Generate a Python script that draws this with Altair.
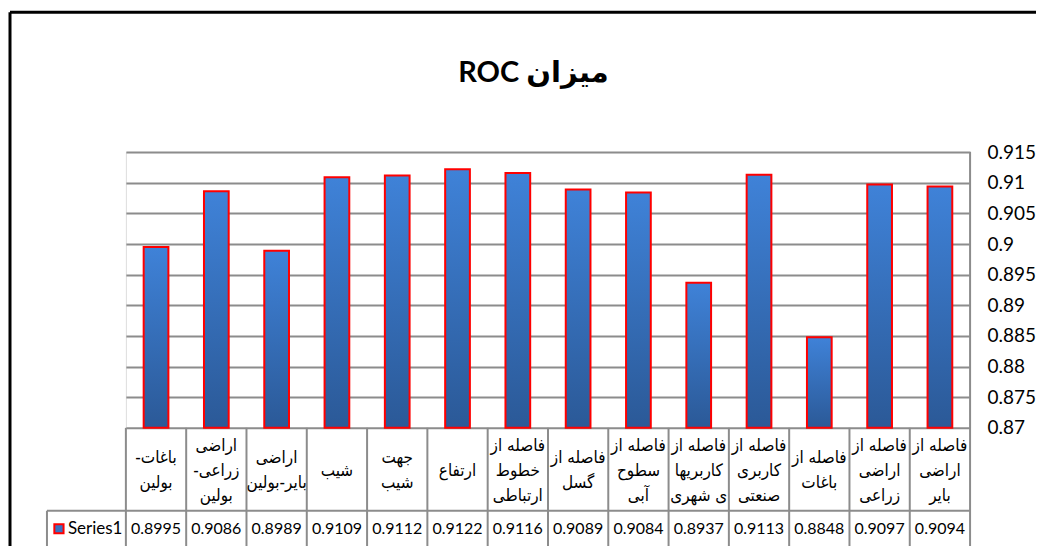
import altair as alt
import pandas as pd

labels = [
    "باغات-\u200f\nبولین",
    "اراضی\nزراعی-\u200f\nبولین",
    "اراضی\nبایر-بولین",
    "شیب",
    "جهت\nشیب",
    "ارتفاع",
    "فاصله از\nخطوط\nارتباطی",
    "فاصله از\nگسل",
    "فاصله از\nسطوح\nآبی",
    "فاصله از\nکاربریها\nی شهری",
    "فاصله از\nکاربری\nصنعتی",
    "فاصله از\nباغات",
    "فاصله از\nاراضی\nزراعی",
    "فاصله از\nاراضی\nبایر",
]
values = [0.8995, 0.9086, 0.8989, 0.9109, 0.9112, 0.9122, 0.9116,
          0.9089, 0.9084, 0.8937, 0.9113, 0.8848, 0.9097, 0.9094]
y_ticks = [0.87, 0.875, 0.88, 0.885, 0.89, 0.895, 0.9, 0.905, 0.91, 0.915]
series_name = "Series1"
title_text = "\u202bمیزان ROC\u202c"

W, H = 845, 276
LH = 25
cats = [f"c{i}" for i in range(len(labels))]
df = pd.DataFrame({"cat": cats, "label": labels, "value": values})
one = pd.DataFrame({"k": [0]})

GRID = "#8c8c8c"
LAT = "Lato, DejaVu Sans Condensed"
PER = "DejaVu Sans Condensed, DejaVu Sans"

xs = alt.X("cat:N", sort=cats, axis=None,
           scale=alt.Scale(paddingInner=0, paddingOuter=0))

grad = alt.Gradient(
    gradient="linear", x1=0, x2=0, y1=0, y2=1,
    stops=[alt.GradientStop(color="#3f82d8", offset=0),
           alt.GradientStop(color="#2b5997", offset=1)],
)

base = alt.Chart(df)

bars = base.mark_bar(width={"band": 0.41}, color=grad, stroke="#ff0000",
                     strokeWidth=2).encode(
    x=xs,
    y=alt.Y("value:Q",
            scale=alt.Scale(domain=[0.87, 0.915], zero=False, nice=False),
            axis=alt.Axis(orient="right", values=y_ticks, format="~f",
                          title=None, grid=True, gridColor=GRID, gridWidth=2,
                          domain=False, ticks=False, labelPadding=17,
                          labelFont=LAT, labelFontSize=19, labelColor="#000",
                          labelAlign="left")),
    y2=alt.datum(0.87),
)

label_text = base.transform_calculate(
    dy=f"-(length(split(datum.label, '\\n')) - 1) * {LH / 2}"
).mark_text(lineBreak="\n", font=PER, fontSize=17, lineHeight=LH,
            baseline="middle", color="#000").encode(
    x=alt.X("cat:N", sort=cats, bandPosition=0.5, axis=None),
    y=alt.value(319),
    yOffset=alt.YOffset("dy:Q", scale=None),
    text="label:N")

value_text = base.mark_text(font=LAT, fontSize=16, baseline="middle",
                            color="#000").encode(
    x=alt.X("cat:N", sort=cats, bandPosition=0.5, axis=None),
    y=alt.value(377), text=alt.Text("value:Q", format=".4f"))

vlines = base.mark_rule(color=GRID, strokeWidth=2).encode(
    x=alt.X("cat:N", sort=cats, bandPosition=0, axis=None),
    y=alt.value(H), y2=alt.value(396))

right_line = alt.Chart(one).mark_rule(color=GRID, strokeWidth=2).encode(
    x=alt.value(W), y=alt.value(0), y2=alt.value(396))
h1 = alt.Chart(one).mark_rule(color=GRID, strokeWidth=2).encode(
    x=alt.value(-79), x2=alt.value(W), y=alt.value(359))
h2 = alt.Chart(one).mark_rule(color=GRID, strokeWidth=2).encode(
    x=alt.value(-79), x2=alt.value(W), y=alt.value(396))
lcell = alt.Chart(one).mark_rule(color=GRID, strokeWidth=2).encode(
    x=alt.value(-79), y=alt.value(359), y2=alt.value(396))

leg_sq = alt.Chart(one).mark_square(size=85, fill="#3a72c0", stroke="#ff0000",
                                    strokeWidth=2, opacity=1).encode(
    x=alt.value(-67), y=alt.value(377))
leg_txt = alt.Chart(one).mark_text(font=LAT, fontSize=17, align="left",
                                   baseline="middle", color="#000").encode(
    x=alt.value(-58), y=alt.value(377), text=alt.value(series_name))

title = alt.Chart(one).mark_text(font="Lato, DejaVu Sans", fontSize=29,
                                 fontWeight="bold", baseline="middle",
                                 color="#000").encode(
    x=alt.value(408), y=alt.value(-79), text=alt.value(title_text))

frame_top = alt.Chart(one).mark_rule(color="#000", strokeWidth=3).encode(
    x=alt.value(-116), x2=alt.value(914), y=alt.value(-140))
frame_left = alt.Chart(one).mark_rule(color="#000", strokeWidth=3).encode(
    x=alt.value(-116), y=alt.value(-140), y2=alt.value(400))

chart = alt.layer(
    bars, vlines, right_line, h1, h2, lcell, label_text, value_text,
    leg_sq, leg_txt, title, frame_top, frame_left,
).properties(
    width=W, height=H,
    autosize=alt.AutoSizeParams(type="none"),
    padding={"left": 118, "top": 144, "right": 66, "bottom": 118},
).configure_view(stroke=None).configure(background="white")

chart.save("out.html", embed_options={"renderer": "svg", "actions": False})
